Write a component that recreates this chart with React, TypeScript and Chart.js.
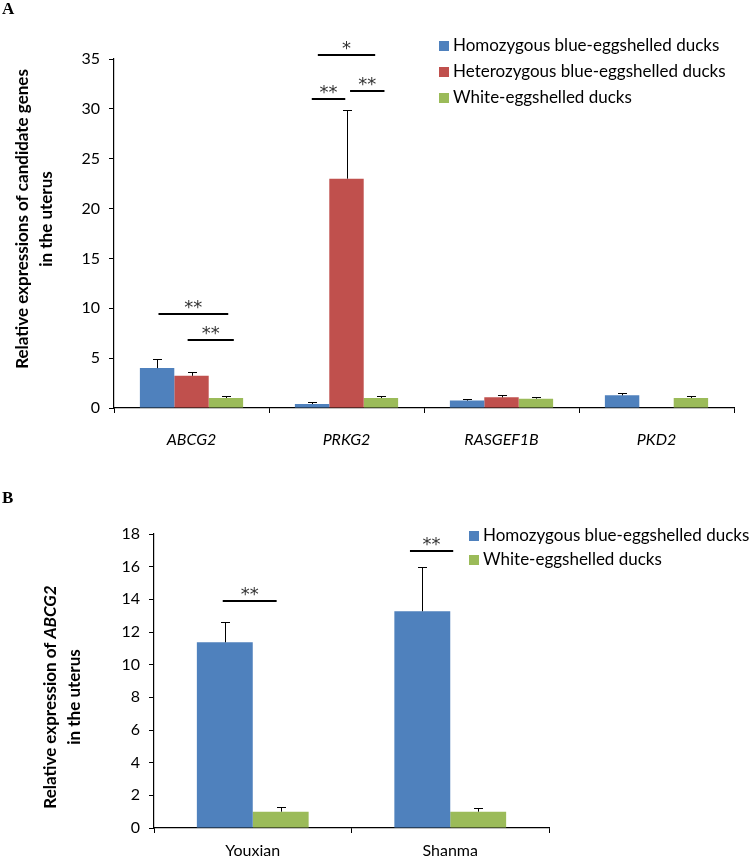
import React, { useEffect, useRef } from "react";
import { Chart, registerables } from "chart.js";

Chart.register(...registerables);

// ---------- data ----------
const genes = ["ABCG2", "PRKG2", "RASGEF1B", "PKD2"];
const seriesNamesA = [
  "Homozygous blue-eggshelled ducks",
  "Heterozygous blue-eggshelled ducks",
  "White-eggshelled ducks",
];
const homoA = [4.0, 0.4, 0.74, 1.27];
const homoAErr = [0.9, 0.23, 0.13, 0.23];
const hetA: (number | null)[] = [3.23, 23.0, 1.07, null];
const hetAErr: (number | null)[] = [0.37, 6.9, 0.23, null];
const whiteA = [1.0, 1.0, 0.94, 1.0];
const whiteAErr = [0.23, 0.2, 0.16, 0.25];
const yMaxA = 35;
const yStepA = 5;

const breeds = ["Youxian", "Shanma"];
const seriesNamesB = ["Homozygous blue-eggshelled ducks", "White-eggshelled ducks"];
const homoB = [11.37, 13.27];
const homoBErr = [1.22, 2.71];
const whiteB = [1.0, 1.0];
const whiteBErr = [0.26, 0.22];
const yMaxB = 18;
const yStepB = 2;

// significance brackets: category index, start/end offset within category, value level, label
const sigA = [
  { cat: 0, from: -0.213, to: 0.237, level: 9.47, label: "**" },
  { cat: 0, from: -0.025, to: 0.273, level: 6.83, label: "**" },
  { cat: 1, from: -0.224, to: -0.008, level: 31.0, label: "**" },
  { cat: 1, from: 0.023, to: 0.245, level: 31.8, label: "**" },
  { cat: 1, from: -0.185, to: 0.185, level: 35.37, label: "*" },
];
const sigB = [
  { cat: 0, from: -0.152, to: 0.121, level: 13.9, label: "**" },
  { cat: 1, from: -0.204, to: 0.015, level: 16.96, label: "**" },
];

type Seg = { text: string; italic?: boolean };
const titleA: Seg[][] = [
  [{ text: "Relative expressions of candidate genes" }],
  [{ text: "in the uterus" }],
];
const titleB: Seg[][] = [
  [{ text: "Relative expression of " }, { text: "ABCG2", italic: true }],
  [{ text: "in the uterus" }],
];

// ---------- styles ----------
const BLUE = "#4F81BD";
const RED = "#C0504D";
const GREEN = "#9BBB59";
const FONT = "Lato";

type Overlay = {
  sig: { cat: number; from: number; to: number; level: number; label: string }[];
  title: Seg[][];
  titleX: number[];
  titleY: number;
  legendX: number;
  legendY: number;
  legendGap: number;
  panel: string;
  panelY: number;
};

function makeOverlay(o: Overlay) {
  return {
    id: "overlay",
    afterDatasetsDraw(chart: any) {
      const ctx = chart.ctx as CanvasRenderingContext2D;
      const y = chart.scales.y;
      const x = chart.scales.x;
      ctx.save();
      // error bars
      ctx.strokeStyle = "#000";
      ctx.lineWidth = 1;
      chart.data.datasets.forEach((ds: any, i: number) => {
        const meta = chart.getDatasetMeta(i);
        meta.data.forEach((el: any, j: number) => {
          const v = ds.data[j];
          const e = ds.errors ? ds.errors[j] : null;
          if (v == null || e == null) return;
          const top = Math.round(y.getPixelForValue(v + e)) + 0.5;
          const bx = Math.round(el.x) + 0.5;
          ctx.beginPath();
          ctx.moveTo(bx, el.y);
          ctx.lineTo(bx, top);
          ctx.moveTo(bx - 4.5, top);
          ctx.lineTo(bx + 4.5, top);
          ctx.stroke();
        });
      });
      // significance
      ctx.lineWidth = 2;
      ctx.fillStyle = "#333";
      ctx.font = "18px 'DejaVu Sans'";
      ctx.textAlign = "center";
      ctx.textBaseline = "alphabetic";
      o.sig.forEach((s) => {
        const x1 = x.getPixelForValue(s.cat + s.from);
        const x2 = x.getPixelForValue(s.cat + s.to);
        const ly = Math.round(y.getPixelForValue(s.level));
        ctx.beginPath();
        ctx.moveTo(x1, ly);
        ctx.lineTo(x2, ly);
        ctx.stroke();
        ctx.fillText(s.label, (x1 + x2) / 2, ly - 1);
      });
      ctx.restore();
    },
    afterDraw(chart: any) {
      const ctx = chart.ctx as CanvasRenderingContext2D;
      ctx.save();
      // legend
      ctx.font = `17px ${FONT}`;
      ctx.textAlign = "left";
      ctx.textBaseline = "middle";
      chart.data.datasets.forEach((ds: any, i: number) => {
        const cy = o.legendY + i * o.legendGap;
        ctx.fillStyle = ds.backgroundColor;
        ctx.fillRect(o.legendX, cy - 5, 10, 10);
        ctx.fillStyle = "#000";
        ctx.fillText(ds.label, o.legendX + 14, cy);
      });
      // y title
      ctx.fillStyle = "#000";
      o.title.forEach((line, li) => {
        const fonts = line.map((s) => `${s.italic ? "italic " : ""}bold 17px ${FONT}`);
        let total = 0;
        const widths = line.map((s, k) => {
          ctx.font = fonts[k];
          return ctx.measureText(s.text).width;
        });
        widths.forEach((w) => (total += w));
        ctx.save();
        ctx.translate(o.titleX[li], o.titleY);
        ctx.rotate(-Math.PI / 2);
        ctx.textAlign = "left";
        ctx.textBaseline = "middle";
        let cx = -total / 2;
        line.forEach((s, k) => {
          ctx.font = fonts[k];
          ctx.fillText(s.text, cx, 0);
          cx += widths[k];
        });
        ctx.restore();
      });
      // panel letter
      ctx.font = "bold 17px 'Liberation Serif'";
      ctx.textAlign = "left";
      ctx.textBaseline = "alphabetic";
      ctx.fillText(o.panel, 2, o.panelY);
      ctx.restore();
    },
  };
}

function axisY(max: number, step: number, width: number) {
  return {
    min: 0,
    max,
    afterFit: (s: any) => {
      s.width = width;
    },
    ticks: {
      stepSize: step,
      color: "#000",
      padding: 9,
      font: { family: FONT, size: 16 },
    },
    grid: {
      drawOnChartArea: false,
      drawTicks: true,
      tickLength: 5,
      color: "#000",
      lineWidth: 1,
    },
    border: { color: "#000", width: 1.2 },
  };
}

function axisX(height: number, pad: number, italic: boolean) {
  return {
    afterFit: (s: any) => {
      s.height = height;
    },
    ticks: {
      color: "#000",
      padding: pad,
      maxRotation: 0,
      font: { family: FONT, size: 16, style: italic ? "italic" : "normal" },
    },
    grid: {
      offset: true,
      drawOnChartArea: false,
      drawTicks: true,
      tickLength: 5,
      color: "#000",
      lineWidth: 1,
    },
    border: { color: "#000", width: 1.2 },
  };
}

export default function App() {
  const refA = useRef<HTMLCanvasElement>(null);
  const refB = useRef<HTMLCanvasElement>(null);

  useEffect(() => {
    const chartA = new Chart(refA.current as HTMLCanvasElement, {
      type: "bar",
      data: {
        labels: genes,
        datasets: [
          { label: seriesNamesA[0], data: homoA, errors: homoAErr, backgroundColor: BLUE } as any,
          { label: seriesNamesA[1], data: hetA, errors: hetAErr, backgroundColor: RED } as any,
          { label: seriesNamesA[2], data: whiteA, errors: whiteAErr, backgroundColor: GREEN } as any,
        ],
      },
      options: {
        responsive: false,
        animation: false,
        devicePixelRatio: 1,
        layout: { padding: { left: 0, top: 59, right: 16, bottom: 0 } },
        datasets: { bar: { barPercentage: 1, categoryPercentage: 0.666, borderWidth: 0 } },
        plugins: { legend: { display: false }, tooltip: { enabled: false } },
        scales: {
          x: axisX(62, 17, true) as any,
          y: axisY(yMaxA, yStepA, 114) as any,
        },
      },
      plugins: [
        makeOverlay({
          sig: sigA,
          title: titleA,
          titleX: [23, 47],
          titleY: 219,
          legendX: 439,
          legendY: 46,
          legendGap: 26,
          panel: "A",
          panelY: 14,
        }),
      ],
    });

    const chartB = new Chart(refB.current as HTMLCanvasElement, {
      type: "bar",
      data: {
        labels: breeds,
        datasets: [
          { label: seriesNamesB[0], data: homoB, errors: homoBErr, backgroundColor: BLUE } as any,
          { label: seriesNamesB[1], data: whiteB, errors: whiteBErr, backgroundColor: GREEN } as any,
        ],
      },
      options: {
        responsive: false,
        animation: false,
        devicePixelRatio: 1,
        layout: { padding: { left: 0, top: 64, right: 201, bottom: 0 } },
        datasets: { bar: { barPercentage: 1, categoryPercentage: 0.566, borderWidth: 0 } },
        plugins: { legend: { display: false }, tooltip: { enabled: false } },
        scales: {
          x: axisX(30, 8, false) as any,
          y: axisY(yMaxB, yStepB, 154) as any,
        },
      },
      plugins: [
        makeOverlay({
          sig: sigB,
          title: titleB,
          titleX: [51, 75],
          titleY: 227,
          legendX: 469,
          legendY: 66,
          legendGap: 24,
          panel: "B",
          panelY: 33,
        }),
      ],
    });

    return () => {
      chartA.destroy();
      chartB.destroy();
    };
  }, []);

  return (
    <div style={{ position: "absolute", left: 0, top: 0, width: 750, height: 858, background: "#fff" }}>
      <canvas ref={refA} width={750} height={470} style={{ position: "absolute", left: 0, top: 0, width: 750, height: 470 }} />
      <canvas ref={refB} width={750} height={388} style={{ position: "absolute", left: 0, top: 470, width: 750, height: 388 }} />
    </div>
  );
}
